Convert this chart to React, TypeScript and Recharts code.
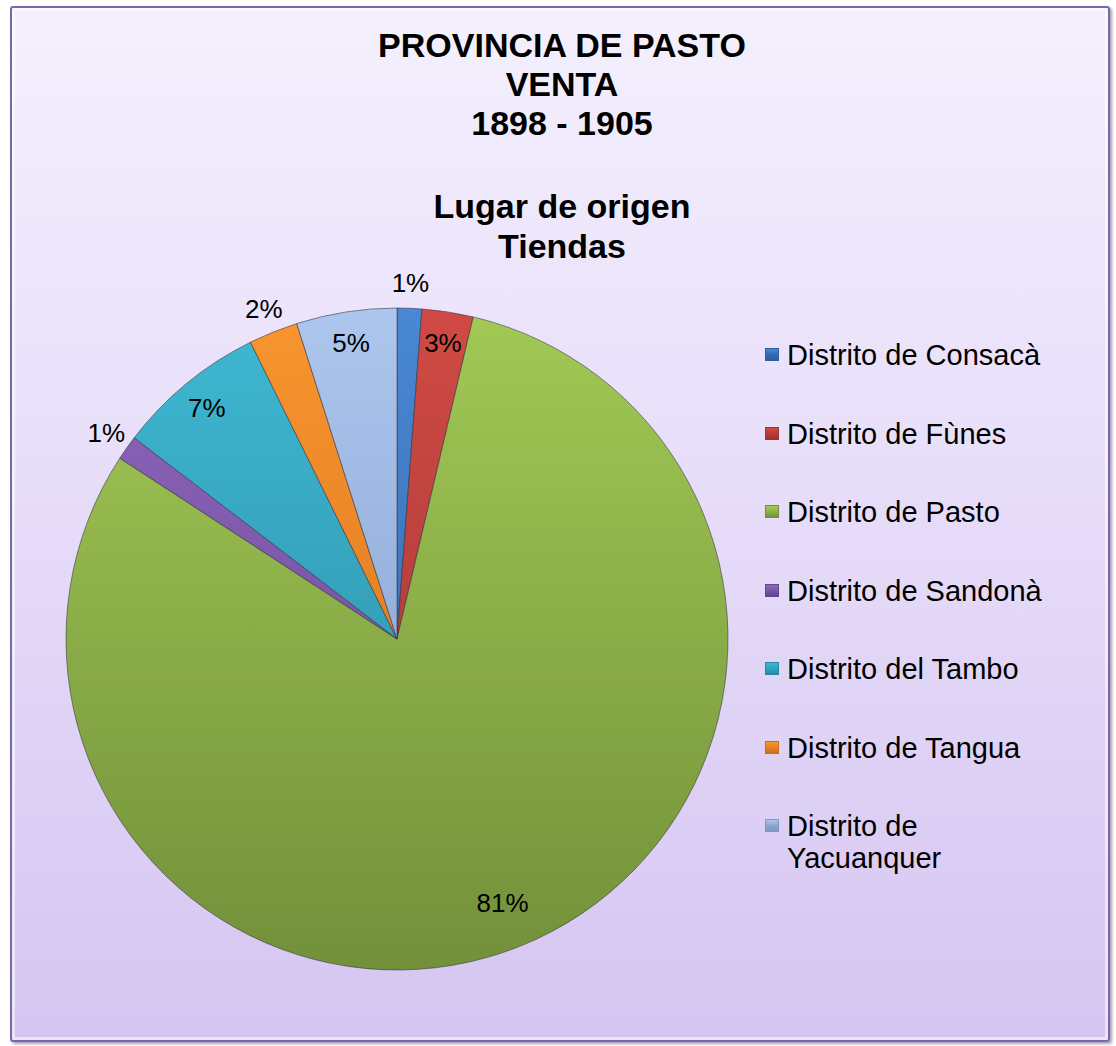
import { PieChart, Pie, Cell, Legend } from "recharts";

// shares (percent of tiendas), clockwise from 12 o'clock
const districts = [
  "Distrito de Consacà",
  "Distrito de Fùnes",
  "Distrito de Pasto",
  "Distrito de Sandonà",
  "Distrito del Tambo",
  "Distrito de Tangua",
  "Distrito de Yacuanquer",
];
const shares = [1.2, 2.5, 80.5, 1.2, 7.3, 2.4, 4.9];

const titleLines = ["PROVINCIA DE PASTO", "VENTA", "1898 - 1905"];
const subtitleLines = ["Lugar de origen", "Tiendas"];

const topColors = ["#4a88d4", "#d04a45", "#a2c955", "#8f66bd", "#3fb8d2", "#f9952f", "#adc6ee"];
const bottomColors = ["#2d5f9f", "#9c3431", "#72903a", "#654690", "#2a87a0", "#cf6d18", "#7c99c6"];
const swatchColors = ["#2f6bb5", "#b83a36", "#8cb043", "#7156a0", "#2ba3bf", "#e67f22", "#8aa3c8"];

const rows = districts.map((name, i) => ({ name, value: shares[i] }));

const FONT = "'Liberation Sans', Arial, sans-serif";
const CX = 397;
const CY = 639;
const R = 331;
const RAD = Math.PI / 180;

const renderLabel = (props: any) => {
  const { midAngle, index } = props;
  const share = shares[index];
  let r = share > 50 ? R * 0.86 : R * 0.905;
  if (share < 2.45) r = R + 25;
  const x = CX + r * Math.cos(-midAngle * RAD);
  const y = CY + r * Math.sin(-midAngle * RAD);
  return (
    <text
      key={`lbl-${index}`}
      x={x}
      y={y}
      textAnchor="middle"
      dominantBaseline="central"
      fontSize={26}
      fontFamily={FONT}
      fill="#000"
    >
      {`${Math.round(share + 1e-9)}%`}
    </text>
  );
};

// keep the legend in slice order (recharts sorts the payload by name)
const renderLegend = () => (
  <div style={{ fontFamily: FONT, fontSize: 29, color: "#000" }}>
    {districts.map((name, i) => (
      <div key={name} style={{ position: "relative", height: 78.5 }}>
        <div
          style={{
            position: "absolute",
            left: 0,
            top: 9,
            width: 14,
            height: 13,
            background: `linear-gradient(180deg, ${topColors[i]} 0%, ${swatchColors[i]} 55%, ${bottomColors[i]} 100%)`,
            border: `1px solid ${bottomColors[i]}`,
            boxSizing: "border-box",
          }}
        />
        <div style={{ position: "absolute", left: 22, top: 0, width: 270, lineHeight: "32px" }}>{name}</div>
      </div>
    ))}
  </div>
);

export default function App() {
  return (
    <div style={{ position: "absolute", left: 0, top: 0, width: 1116, height: 1046, background: "#fff" }}>
      <div
        style={{
          position: "absolute",
          left: 10,
          top: 6,
          width: 1100,
          height: 1036,
          boxSizing: "border-box",
          border: "2px solid #7a66ad",
          borderRadius: 3,
          background: "linear-gradient(180deg, #f4f0fd 0%, #e9e0fa 40%, #d5c5f1 100%)",
          boxShadow: "inset 0 0 0 3px rgba(255,255,255,0.55), 2px 2px 3px rgba(60,40,90,0.45)",
        }}
      />
      <div
        style={{
          position: "absolute",
          left: 12,
          top: 26,
          width: 1100,
          textAlign: "center",
          fontFamily: FONT,
          fontWeight: "bold",
          fontSize: 34,
          lineHeight: "39px",
          color: "#000",
        }}
      >
        {titleLines.map((t) => (
          <div key={t}>{t}</div>
        ))}
      </div>
      <div
        style={{
          position: "absolute",
          left: 12,
          top: 186,
          width: 1100,
          textAlign: "center",
          fontFamily: FONT,
          fontWeight: "bold",
          fontSize: 34,
          lineHeight: "40px",
          color: "#000",
        }}
      >
        {subtitleLines.map((t) => (
          <div key={t}>{t}</div>
        ))}
      </div>
      <div style={{ position: "absolute", left: 0, top: 0 }}>
        <PieChart width={1116} height={1046} margin={{ top: 0, right: 0, bottom: 0, left: 0 }}>
          <defs>
            {districts.map((d, i) => (
              <linearGradient
                key={d}
                id={`slice-${i}`}
                gradientUnits="userSpaceOnUse"
                x1={0}
                y1={CY - R}
                x2={0}
                y2={CY + R}
              >
                <stop offset="0%" stopColor={topColors[i]} />
                <stop offset="100%" stopColor={bottomColors[i]} />
              </linearGradient>
            ))}
          </defs>
          <Pie
            data={rows}
            dataKey="value"
            nameKey="name"
            cx={CX}
            cy={CY}
            outerRadius={R}
            startAngle={90}
            endAngle={-270}
            stroke="rgba(50,50,60,0.55)"
            strokeWidth={1}
            labelLine={false}
            label={renderLabel}
            isAnimationActive={false}
          >
            {rows.map((row, i) => (
              <Cell key={row.name} fill={`url(#slice-${i})`} />
            ))}
          </Pie>
          <Legend
            layout="vertical"
            content={renderLegend}
            wrapperStyle={{ left: 765, top: 339, width: 340, bottom: "auto", right: "auto" }}
          />
        </PieChart>
      </div>
    </div>
  );
}
